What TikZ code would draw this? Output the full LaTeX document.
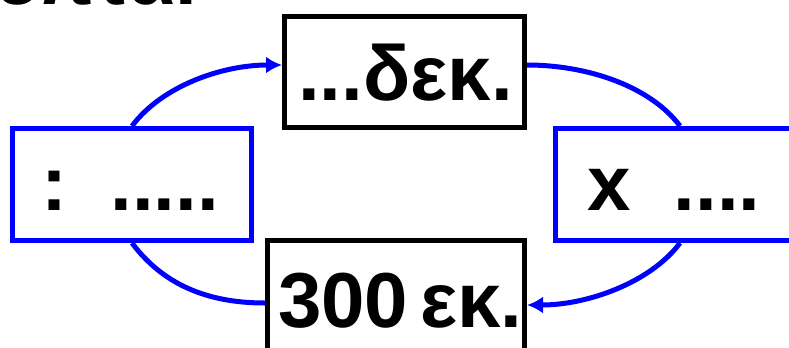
\documentclass[tikz,border=0pt]{standalone}
\usepackage{fontspec}
\setmainfont{Liberation Sans}
\usetikzlibrary{arrows.meta}
\definecolor{pureblue}{RGB}{0,0,255}
\begin{document}
\begin{tikzpicture}[x=1bp,y=-1bp,
  bigtxt/.style={inner sep=0pt, anchor=base west, font=\fontsize{78bp}{90bp}\bfseries\selectfont},
  blackbox/.style={draw=black, line width=5bp, fill=white, inner sep=0pt},
  bluebox/.style={draw=pureblue, line width=5bp, fill=white, inner sep=0pt},
  link/.style={draw=pureblue, line width=5bp},
  tipend/.style={-{Latex[length=16bp,width=17bp]}}]
\useasboundingbox (0,0) rectangle (789,347);
\clip (0,0) rectangle (789,347);
% boxes
\node[bluebox, minimum width=239bp, minimum height=112bp] (L) at (132,184.5) {};
\node[bluebox, minimum width=239bp, minimum height=112bp] (R) at (675,184.5) {};
\node[blackbox, minimum width=240bp, minimum height=111bp] (T) at (404.5,72) {};
\node[blackbox, minimum width=257bp, minimum height=111bp] (B) at (396,296) {};
% texts
\node[bigtxt] (title) at (-2,4) {επτά.};
\node[bigtxt] (tT) at (298,100) {...δεκ.};
\node[bigtxt] (tB) at (278,327) {300\hspace{12bp}εκ.};
\node[bigtxt] (tL) at (41,210) {:\ \ .....};
\node[bigtxt] (tR) at (587,210) {x\ \ ....};
% connectors
\draw[link, tipend] (L.north) .. controls +(30,-40) and +(-60,0) .. ([yshift=7bp]T.west);
\draw[link] ([yshift=7bp]T.east) .. controls +(60,0) and +(-30,-40) .. ([xshift=5bp]R.north);
\draw[link, tipend] ([xshift=5bp]R.south) .. controls +(-30,40) and +(60,0) .. ([yshift=-9bp]B.east);
\draw[link] (L.south) .. controls +(30,40) and +(-60,0) .. ([yshift=-7bp]B.west);
\end{tikzpicture}
\end{document}
